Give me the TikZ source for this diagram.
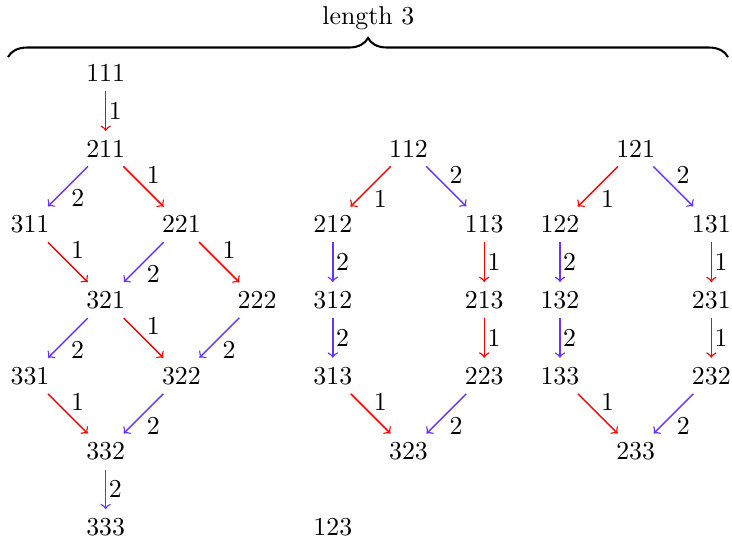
\documentclass[tikz,border=0pt]{standalone}
\usetikzlibrary{decorations.pathreplacing}

\definecolor{twoblue}{RGB}{102,51,255}

\tikzset{
  onearr/.style={->, red, line width=0.55pt, auto},
  twoarr/.style={->, twoblue, line width=0.55pt, auto},
  lab/.style={inner sep=1pt, text=black},
}

\begin{document}
\begin{tikzpicture}[x=1.03cm,y=1.03cm]

\useasboundingbox (-0.396,-6.182) rectangle (9.273,0.964);

\draw[thick, decorate, decoration={brace, amplitude=7.4pt}] (-0.29,0.21) coordinate (bl) -- (9.22,0.21) coordinate (br);
\node (title) at (4.47,0.73) {length 3};

\foreach \w/\x/\y in {111/1/0, 211/1/1, 311/0/2, 221/2/2, 321/1/3, 222/3/3, 331/0/4, 322/2/4, 332/1/5, 333/1/6,
                      112/5/1, 212/4/2, 113/6/2, 312/4/3, 213/6/3, 313/4/4, 223/6/4, 323/5/5,
                      121/8/1, 122/7/2, 131/9/2, 132/7/3, 231/9/3, 133/7/4, 232/9/4, 233/8/5,
                      123/4/6} {
    \node (n\w) at (\x,-\y) {\w};
}

\foreach \a/\b in {111/211, 211/221, 311/321, 221/222, 321/322, 331/332,
                   112/212, 113/213, 213/223, 313/323,
                   121/122, 131/231, 231/232, 133/233} {
    \draw[onearr] (n\a) -- node[lab] {1} (n\b);
}

\foreach \a/\b in {211/311, 221/321, 321/331, 222/322, 322/332, 332/333,
                   112/113, 212/312, 312/313, 223/323,
                   121/131, 122/132, 132/133, 232/233} {
    \draw[twoarr] (n\a) -- node[lab] {2} (n\b);
}

\end{tikzpicture}
\end{document}
